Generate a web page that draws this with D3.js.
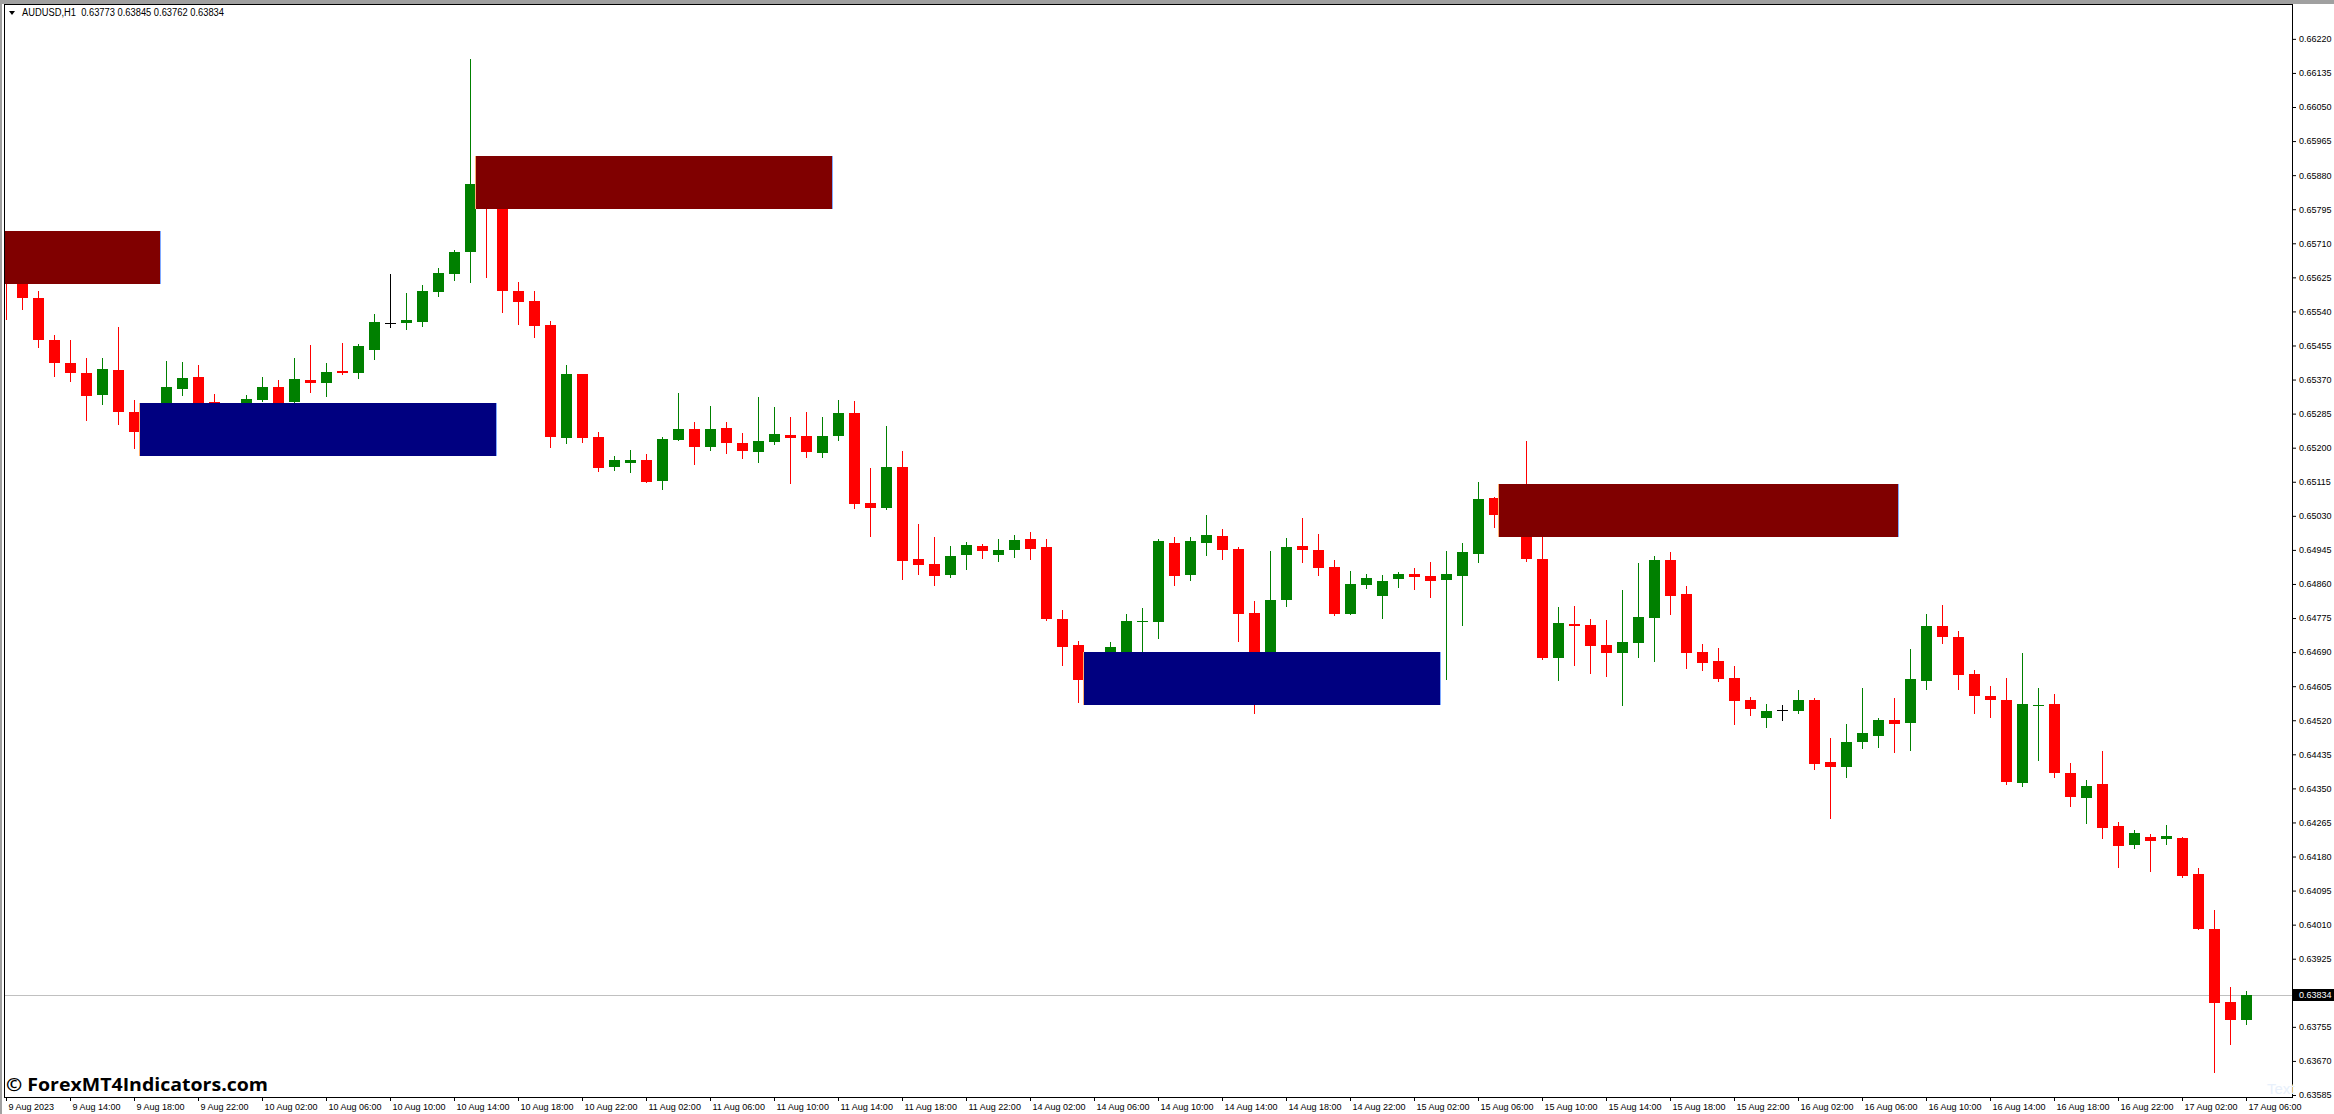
<!DOCTYPE html>
<html><head><meta charset="utf-8">
<script src="https://cdn.jsdelivr.net/npm/d3@7"></script>
<style>
html,body{margin:0;padding:0;background:#fff;overflow:hidden}
svg{display:block}
text{font-family:"Liberation Sans",Arial,sans-serif}
</style></head><body>
<svg id="c" width="2334" height="1114"></svg>
<script>
// ---- data (AUDUSD H1, 9 Aug 2023 10:00 .. 17 Aug 2023 06:00) ----
const symbol = "AUDUSD,H1";
const headerValues = ["0.63773","0.63845","0.63762","0.63834"];
const currentPrice = 0.63834;

const open = [
0.65663,0.65628,0.65573,0.65468,0.65411,0.65386,0.65332,0.65394,0.65289,0.65219,
0.65284,0.65347,0.65376,0.65314,0.65309,0.65299,0.65319,0.65351,0.65314,0.65369,
0.65362,0.65391,0.65387,0.65444,0.65512,0.65511,0.65514,0.65589,0.65634,0.65689,
0.65858,0.65818,0.65591,0.65566,0.65506,0.65225,0.65383,0.65226,0.65152,0.65162,
0.65169,0.65117,0.65220,0.65246,0.65202,0.65249,0.65211,0.65190,0.65215,0.65231,
0.65229,0.65187,0.65230,0.65286,0.65062,0.65050,0.65152,0.64922,0.64910,0.64883,
0.64933,0.64954,0.64933,0.64945,0.64972,0.64952,0.64773,0.64708,0.64595,0.64640,
0.64670,0.64764,0.64764,0.64962,0.64883,0.64963,0.64979,0.64947,0.64787,0.64665,
0.64821,0.64954,0.64944,0.64902,0.64786,0.64858,0.64830,0.64873,0.64885,0.64880,
0.64870,0.64880,0.64935,0.65074,0.65039,0.65014,0.64922,0.64675,0.64760,0.64757,
0.64708,0.64688,0.64712,0.64775,0.64920,0.64835,0.64690,0.64668,0.64625,0.64570,
0.64526,0.64545,0.64544,0.64570,0.64416,0.64404,0.64466,0.64481,0.64520,0.64514,
0.64618,0.64755,0.64727,0.64635,0.64580,0.64570,0.64364,0.64556,0.64560,0.64388,
0.64327,0.64361,0.64256,0.64209,0.64229,0.64224,0.64226,0.64136,0.63999,0.63817,
0.63773];
const high = [
0.65705,0.65648,0.65591,0.65481,0.65468,0.65424,0.65424,0.65501,0.65319,0.65299,
0.65416,0.65413,0.65406,0.65334,0.65310,0.65331,0.65376,0.65369,0.65424,0.65456,
0.65411,0.65461,0.65458,0.65533,0.65633,0.65586,0.65606,0.65648,0.65693,0.66169,
0.65880,0.65838,0.65613,0.65591,0.65516,0.65406,0.65385,0.65239,0.65179,0.65194,
0.65184,0.65226,0.65336,0.65264,0.65304,0.65264,0.65236,0.65326,0.65301,0.65276,
0.65289,0.65276,0.65319,0.65316,0.65149,0.65254,0.65191,0.65009,0.64977,0.64954,
0.64964,0.64959,0.64972,0.64982,0.64989,0.64972,0.64796,0.64717,0.64670,0.64715,
0.64785,0.64800,0.64972,0.64977,0.64977,0.65032,0.64997,0.64952,0.64817,0.64942,
0.64974,0.65024,0.64984,0.64920,0.64892,0.64885,0.64882,0.64890,0.64900,0.64915,
0.64942,0.64962,0.65114,0.65077,0.65069,0.65216,0.64994,0.64802,0.64805,0.64772,
0.64770,0.64845,0.64912,0.64930,0.64940,0.64855,0.64710,0.64700,0.64655,0.64578,
0.64560,0.64558,0.64595,0.64575,0.64475,0.64510,0.64600,0.64525,0.64575,0.64698,
0.64785,0.64807,0.64742,0.64645,0.64605,0.64625,0.64688,0.64600,0.64585,0.64413,
0.64371,0.64443,0.64266,0.64246,0.64236,0.64258,0.64229,0.64151,0.64046,0.63855,
0.63845];
const low = [
0.65521,0.65547,0.65452,0.65379,0.65367,0.65270,0.65309,0.65260,0.65200,0.65204,
0.65269,0.65332,0.65289,0.65294,0.65284,0.65289,0.65316,0.65281,0.65306,0.65339,
0.65329,0.65384,0.65374,0.65422,0.65502,0.65497,0.65504,0.65579,0.65619,0.65614,
0.65626,0.65539,0.65509,0.65477,0.65202,0.65212,0.65215,0.65142,0.65145,0.65140,
0.65114,0.65097,0.65219,0.65160,0.65195,0.65187,0.65175,0.65165,0.65210,0.65112,
0.65177,0.65177,0.65220,0.65050,0.64980,0.65048,0.64873,0.64885,0.64858,0.64878,
0.64898,0.64925,0.64918,0.64928,0.64923,0.64771,0.64658,0.64566,0.64583,0.64630,
0.64658,0.64665,0.64726,0.64858,0.64870,0.64933,0.64923,0.64718,0.64539,0.64650,
0.64806,0.64915,0.64883,0.64783,0.64784,0.64850,0.64776,0.64853,0.64848,0.64828,
0.64623,0.64758,0.64915,0.65003,0.64994,0.64918,0.64673,0.64620,0.64658,0.64638,
0.64631,0.64559,0.64678,0.64668,0.64786,0.64651,0.64645,0.64618,0.64511,0.64534,
0.64504,0.64521,0.64539,0.64399,0.64277,0.64379,0.64451,0.64454,0.64441,0.64446,
0.64598,0.64713,0.64598,0.64539,0.64529,0.64361,0.64356,0.64421,0.64379,0.64307,
0.64264,0.64227,0.64154,0.64202,0.64144,0.64212,0.64129,0.63999,0.63643,0.63713,
0.63762];
const close = [
0.65628,0.65574,0.65469,0.65412,0.65387,0.65329,0.65396,0.65290,0.65240,0.65281,
0.65351,0.65374,0.65306,0.65309,0.65299,0.65321,0.65351,0.65304,0.65371,0.65362,
0.65388,0.65386,0.65453,0.65513,0.65512,0.65518,0.65591,0.65636,0.65688,0.65858,
0.65818,0.65591,0.65564,0.65504,0.65226,0.65384,0.65225,0.65150,0.65169,0.65169,
0.65115,0.65221,0.65246,0.65202,0.65246,0.65212,0.65192,0.65216,0.65234,0.65225,
0.65190,0.65229,0.65286,0.65060,0.65050,0.65152,0.64918,0.64908,0.64880,0.64930,
0.64957,0.64943,0.64944,0.64969,0.64948,0.64773,0.64703,0.64621,0.64645,0.64703,
0.64767,0.64767,0.64967,0.64881,0.64967,0.64982,0.64945,0.64786,0.64665,0.64820,
0.64952,0.64945,0.64900,0.64786,0.64860,0.64875,0.64867,0.64885,0.64878,0.64868,
0.64885,0.64940,0.65072,0.65033,0.65007,0.64923,0.64675,0.64762,0.64756,0.64706,
0.64688,0.64715,0.64777,0.64920,0.64830,0.64688,0.64663,0.64623,0.64569,0.64549,
0.64543,0.64545,0.64570,0.64411,0.64404,0.64465,0.64488,0.64520,0.64511,0.64623,
0.64755,0.64728,0.64633,0.64581,0.64571,0.64366,0.64560,0.64558,0.64389,0.64329,
0.64356,0.64252,0.64207,0.64238,0.64219,0.64231,0.64132,0.64000,0.63815,0.63773,
0.63834];

// supply / demand zones (bar index from..to, price top..bottom)
const zoneType   = ["supply","demand","supply","demand","supply"];
const zoneFrom   = [-13, 8.375, 29.375, 67.35, 93.3];
const zoneTo     = [9.6, 30.6, 51.6, 89.6, 118.25];
const zoneTop    = [0.65740, 0.65311, 0.65927, 0.64690, 0.65109];
const zoneBottom = [0.65608, 0.65180, 0.65796, 0.64559, 0.64978];

const xTickBars = d3.range(0, 141, 4);
const xTickLabels = ["9 Aug 2023","9 Aug 14:00","9 Aug 18:00","9 Aug 22:00","10 Aug 02:00","10 Aug 06:00",
"10 Aug 10:00","10 Aug 14:00","10 Aug 18:00","10 Aug 22:00","11 Aug 02:00","11 Aug 06:00","11 Aug 10:00",
"11 Aug 14:00","11 Aug 18:00","11 Aug 22:00","14 Aug 02:00","14 Aug 06:00","14 Aug 10:00","14 Aug 14:00",
"14 Aug 18:00","14 Aug 22:00","15 Aug 02:00","15 Aug 06:00","15 Aug 10:00","15 Aug 14:00","15 Aug 18:00",
"15 Aug 22:00","16 Aug 02:00","16 Aug 06:00","16 Aug 10:00","16 Aug 14:00","16 Aug 18:00","16 Aug 22:00",
"17 Aug 02:00","17 Aug 06:00"];
const yTickLabels = ["0.66220","0.66135","0.66050","0.65965","0.65880","0.65795","0.65710","0.65625",
"0.65540","0.65455","0.65370","0.65285","0.65200","0.65115","0.65030","0.64945","0.64860","0.64775",
"0.64690","0.64605","0.64520","0.64435","0.64350","0.64265","0.64180","0.64095","0.64010","0.63925",
"0.63755","0.63670","0.63585"];

// ---- drawing ----
const svg = d3.select("#c");
const P = {l:4, t:4, r:2292, b:1097};
const x = d3.scaleLinear().domain([0, 140]).range([6, 2246]);
const y = d3.scaleLinear().domain([0.63580, 0.66307]).range([1097, 4]);

// window chrome
svg.append("rect").attr("x",0).attr("y",0).attr("width",2334).attr("height",1114).attr("fill","#fff");
svg.append("rect").attr("x",0).attr("y",0).attr("width",2334).attr("height",4).attr("fill","#a0a0a0");
svg.append("rect").attr("x",0).attr("y",0).attr("width",2).attr("height",1114).attr("fill","#a0a0a0");

svg.append("defs").append("clipPath").attr("id","clip")
  .append("rect").attr("x",P.l+1).attr("y",P.t+1).attr("width",P.r-P.l-1).attr("height",P.b-P.t-1);

const plot = svg.append("g").attr("clip-path","url(#clip)");

// current price line
const yc = Math.round(y(currentPrice));
plot.append("line").attr("x1",P.l).attr("x2",P.r).attr("y1",yc+0.5).attr("y2",yc+0.5)
  .attr("stroke","#c0c0c0").attr("stroke-width",1);

const bars = d3.range(open.length);
const colorOf = i => close[i] > open[i] ? "#008000" : (close[i] < open[i] ? "#ff0000" : "#000000");

const cg = plot.append("g");
cg.selectAll("line.wick").data(bars).join("line").attr("class","wick")
  .attr("x1", i => Math.round(x(i)) + 0.5).attr("x2", i => Math.round(x(i)) + 0.5)
  .attr("y1", i => Math.round(y(high[i])))
  .attr("y2", i => Math.round(y(low[i])) + 1)
  .attr("stroke", colorOf).attr("stroke-width", 1);
cg.selectAll("rect.body").data(bars).join("rect").attr("class","body")
  .attr("x", i => Math.round(x(i)) - 5)
  .attr("width", 11)
  .attr("y", i => Math.round(y(Math.max(open[i], close[i]))))
  .attr("height", i => Math.max(1, Math.round(y(Math.min(open[i], close[i]))) - Math.round(y(Math.max(open[i], close[i])))))
  .attr("fill", colorOf);

// zones
const zones = d3.range(zoneType.length);
const zg = plot.append("g");
zg.selectAll("rect").data(zones).join("rect")
  .attr("x", i => Math.round(x(zoneFrom[i])))
  .attr("y", i => Math.round(y(zoneTop[i])))
  .attr("width", i => Math.round(x(zoneTo[i])) - Math.round(x(zoneFrom[i])))
  .attr("height", i => Math.round(y(zoneBottom[i])) - Math.round(y(zoneTop[i])))
  .attr("fill", i => zoneType[i] === "supply" ? "#800000" : "#000080");
zg.selectAll("line.le").data(zones).join("line").attr("class","le")
  .attr("x1", i => Math.round(x(zoneFrom[i])) - 0.5).attr("x2", i => Math.round(x(zoneFrom[i])) - 0.5)
  .attr("y1", i => Math.round(y(zoneTop[i]))).attr("y2", i => Math.round(y(zoneBottom[i])))
  .attr("stroke", "#ffb070");
zg.selectAll("line.re").data(zones).join("line").attr("class","re")
  .attr("x1", i => Math.round(x(zoneTo[i])) + 0.5).attr("x2", i => Math.round(x(zoneTo[i])) + 0.5)
  .attr("y1", i => Math.round(y(zoneTop[i]))).attr("y2", i => Math.round(y(zoneBottom[i])))
  .attr("stroke", "#80aaff");

// frame
svg.append("rect").attr("x",P.l+0.5).attr("y",P.t+0.5).attr("width",P.r-P.l).attr("height",P.b-P.t)
  .attr("fill","none").attr("stroke","#000").attr("stroke-width",1);

// y axis
const yAxis = d3.axisRight(y).tickValues(yTickLabels.map(Number))
  .tickFormat((d,i) => yTickLabels[i]).tickSize(4).tickPadding(3);
const gy = svg.append("g").attr("transform",`translate(${P.r},0)`).call(yAxis);
gy.select(".domain").remove();
gy.selectAll("line").attr("stroke","#000");
gy.selectAll("text").attr("fill","#000").style("font-size","9px").style("font-family",'"Liberation Sans",Arial,sans-serif');

// x axis
const xAxis = d3.axisBottom(x).tickValues(xTickBars)
  .tickFormat((d,i) => xTickLabels[i]).tickSize(4).tickPadding(3);
const gx = svg.append("g").attr("transform",`translate(0,${P.b})`).call(xAxis);
gx.select(".domain").remove();
gx.selectAll("line").attr("stroke","#000");
gx.selectAll("text").attr("fill","#000").attr("text-anchor","start").attr("x",2)
  .style("font-size","9px").style("font-family",'"Liberation Sans",Arial,sans-serif');

// current price label
svg.append("rect").attr("x",P.r+1).attr("y",yc-6).attr("width",2334-P.r-1).attr("height",12).attr("fill","#000");
svg.append("text").attr("x",P.r+7).attr("y",yc+0.5).attr("dy","0.32em").attr("fill","#fff")
  .style("font-size","9px").text(currentPrice.toFixed(5));

// header
svg.append("path").attr("d","M9,11 L15,11 L12,15 Z").attr("fill","#000");
svg.append("text").attr("x",22).attr("y",16).attr("fill","#000").style("font-size","10px")
  .style("white-space","pre").attr("textLength",202).attr("lengthAdjust","spacingAndGlyphs")
  .text(symbol + "  " + headerValues.join(" "));

// watermarks
svg.append("text").attr("x",6).attr("y",1091).attr("fill","#000")
  .style("font-family",'"Open Sans","Liberation Sans",sans-serif').style("font-weight","700").style("font-size","18px")
  .attr("textLength",262).attr("lengthAdjust","spacingAndGlyphs")
  .text("\u00A9 ForexMT4Indicators.com");
svg.append("text").attr("x",2267).attr("y",1094).attr("fill","#e8f0fb")
  .style("font-size","15px").text("Text");
</script>
</body></html>
